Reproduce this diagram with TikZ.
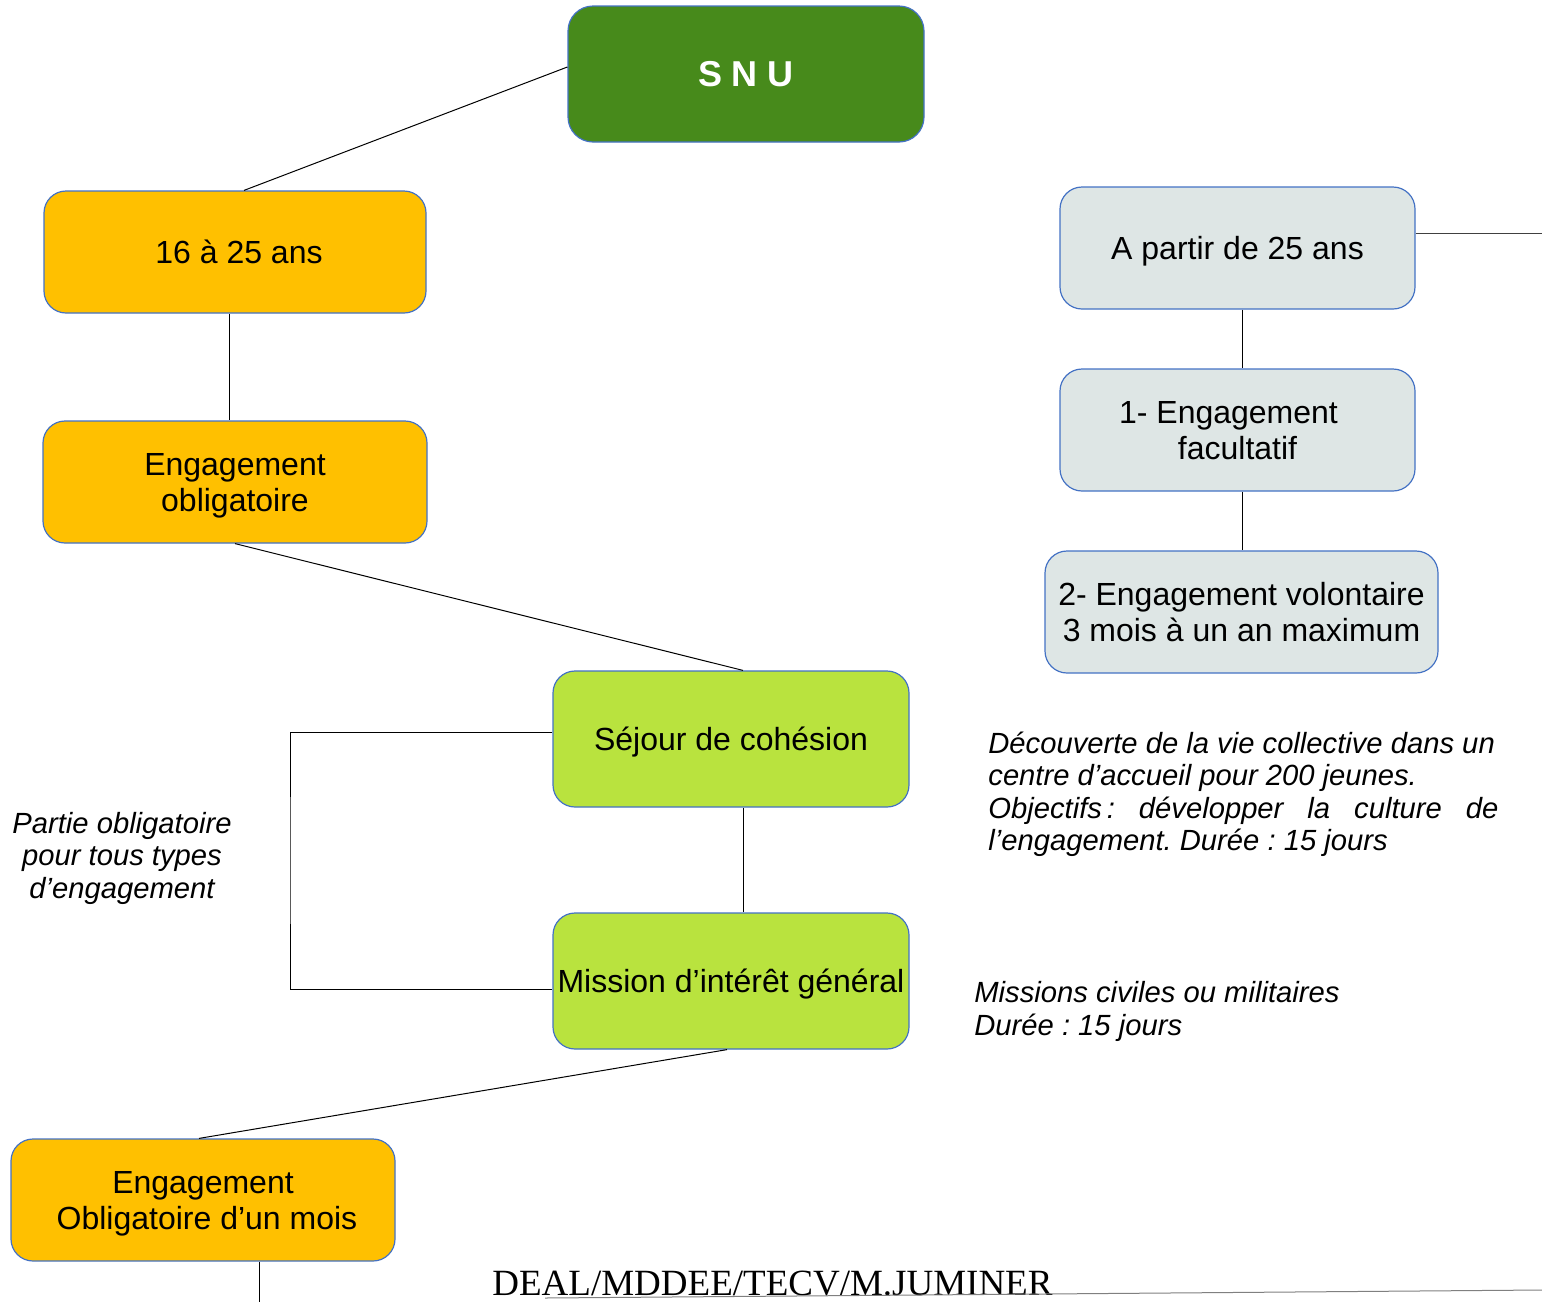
\documentclass[tikz,border=0pt]{standalone}
\usepackage{fontspec}
\setmainfont{Liberation Sans}
\newfontfamily\dealfont{Liberation Serif}
\usetikzlibrary{positioning}
\frenchspacing
\definecolor{snugreen}{RGB}{71,138,27}
\definecolor{ageorange}{RGB}{255,192,0}
\definecolor{stagelime}{RGB}{185,227,62}
\definecolor{optgrey}{RGB}{222,230,229}
\definecolor{edgeblue}{RGB}{68,114,196}
\newcommand\boxstrut{\rule[-0.212em]{0pt}{1.117em}}
\newcommand\tallstrut{\rule[-0.212em]{0pt}{\dimexpr1.117em+18pt\relax}}
\tikzset{basic/.style={draw=edgeblue,line width=0.6pt,rounded corners=11pt,align=center,inner sep=2pt,font=\fontsize{16}{18}\selectfont,execute at begin node=\boxstrut,execute at end node=\boxstrut}}
\tikzset{twoline/.style={execute at begin node=\tallstrut}}
\tikzset{root/.style={basic,fill=snugreen,text=white,minimum width=178pt,minimum height=68pt,rounded corners=12.5pt,font=\fontsize{18}{20}\selectfont\bfseries}}
\tikzset{phase/.style={basic,fill=ageorange,minimum width=192pt,minimum height=61pt}}
\tikzset{stage/.style={basic,fill=stagelime,minimum width=178pt,minimum height=68pt}}
\tikzset{option/.style={basic,fill=optgrey,minimum width=177.5pt,minimum height=61pt}}
\tikzset{link/.style={draw,line width=0.5pt}}
\tikzset{note/.style={inner sep=0pt,font=\fontsize{14.6}{16.25}\selectfont\itshape}}

\begin{document}
\begin{tikzpicture}[x=0.5pt,y=-0.5pt]
    \useasboundingbox (0,0) rectangle (1542,1302);

    \node[root] (snu) at (746,74) {S N U};

    \node[phase,minimum width=191pt] (age) at (235,252) {\hspace*{4pt}16 à 25 ans};
    \node[phase,twoline,below of=age,node distance=115pt] (oblig) {Engagement\\obligatoire};

    \node[stage] (sejour) at (731,739) {Séjour de cohésion};
    \node[stage,below of=sejour,node distance=121pt] (mission) {Mission d’intérêt général};

    \node[phase,twoline] (mois) at (203,1200) {Engagement\\\hspace*{4pt}Obligatoire d’un mois};

    \node[option] (apartir) at (1237.5,248) {A partir de 25 ans};
    \node[option,twoline,below of=apartir,node distance=91pt] (facult) {1- Engagement\hspace*{9pt}\\facultatif};
    \node[option,twoline,below of=facult,node distance=91pt,xshift=2pt,minimum width=196.5pt] (volont) {2- Engagement volontaire\\3 mois à un an maximum};

    % notes beside the boxes
    \node[note,align=center,anchor=base] (partie) at (122,898) {Partie obligatoire\\pour tous types\\d’engagement};
    \node[note,text width=255pt,align=justify,anchor=base west] (sejournote) at (988,753)
        {Découverte de la vie collective dans un\newline centre d’accueil pour 200 jeunes.\newline Objectifs\,: développer la culture de\linebreak l’engagement. Durée : 15 jours};
    \node[note,align=left,anchor=base west] (missionnote) at (974,1035) {Missions civiles ou militaires\\Durée : 15 jours};

    \node[anchor=base west,inner sep=0pt,font=\dealfont\fontsize{18.5}{20}\selectfont] (deal) at (492,1295) {DEAL/MDDEE/TECV/M.JUMINER};

    \coordinate (rightedge) at (1542,233);
    \coordinate (bottomedge) at (259,1302);
    \coordinate (brk) at (290,860);
    \coordinate (rulestart) at (545,1298);
    \coordinate (ruleend) at (1542,1290);

    \path[link] ([yshift=3.5pt]snu.west) -- ([xshift=4.5pt]age.north);
    \path[link] ([xshift=-3pt]age.south) -- ([xshift=-3pt]oblig.north);
    \path[link] (oblig.south) -- ([xshift=6pt]sejour.north);
    \path[link] ([xshift=6pt]sejour.south) -- ([xshift=6pt]mission.north);
    \path[link] ([yshift=3.5pt]sejour.west) -| (brk) |- ([yshift=-4pt]mission.west);
    \path[link] ([xshift=-2pt]mission.south) -- ([xshift=-2pt]mois.north);
    \path[link] (bottomedge |- mois.south) -- (bottomedge);
    \path[link,draw=darkgray] (apartir.east |- rightedge) -- (rightedge);
    \path[link] ([xshift=2.25pt]apartir.south) -- ([xshift=2.25pt]facult.north);
    \path[link] ([xshift=2.25pt]facult.south) -- ([xshift=0.25pt]volont.north);
    \path[link,draw=gray] (rulestart) -- (ruleend);
\end{tikzpicture}
\end{document}
